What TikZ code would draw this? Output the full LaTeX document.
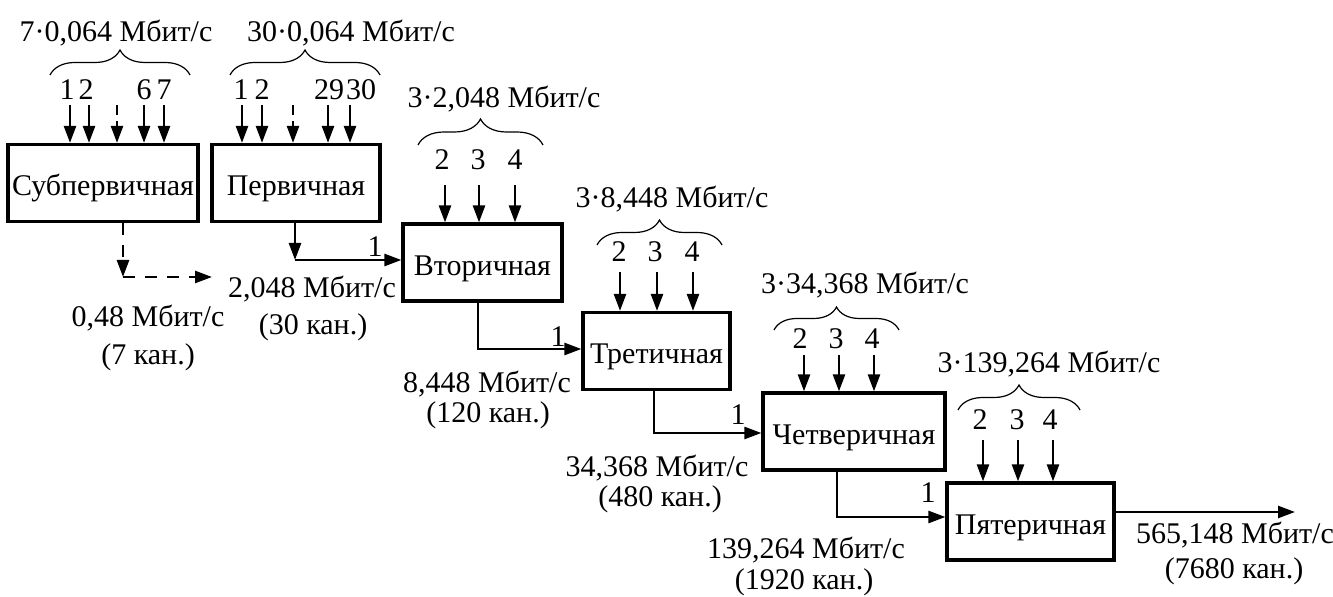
\documentclass[tikz,border=0pt]{standalone}
\usepackage{fontspec}
\setmainfont{Liberation Serif}
\usetikzlibrary{arrows.meta,decorations.pathreplacing}
\begin{document}
\begin{tikzpicture}[x=0.5pt,y=-0.5pt,
  every node/.style={font=\fontsize{15}{17}\selectfont, inner sep=0pt},
  lbl/.style={anchor=base},
  box/.style={draw, line width=1.6pt, text height=13pt, text depth=0pt},
  arr/.style={line width=1.25pt, -{Triangle[length=8.5pt,width=6pt]}},
  dsh/.style={dash pattern=on 5pt off 3pt},
  ldsh/.style={dash pattern=on 6pt off 5pt},
  brc/.style={line width=0.6pt, decorate, decoration={brace, amplitude=#1}}
]
\useasboundingbox (0,0) rectangle (1333,597);

% boxes
\node[box, minimum width=95pt, minimum height=38.5pt] (sub) at (103,183) {Субпервичная};
\node[box, minimum width=84pt, minimum height=38.5pt] (perv) at (296,183) {Первичная};
\node[box, minimum width=79.5pt, minimum height=38.5pt] (vtor) at (482.5,262.5) {Вторичная};
\node[box, minimum width=73.5pt, minimum height=38.5pt] (tret) at (656.5,351) {Третичная};
\node[box, minimum width=91pt, minimum height=38.5pt] (chet) at (854,431.5) {Четверичная};
\node[box, minimum width=83.5pt, minimum height=38.5pt] (pyat) at (1030.5,521.5) {Пятеричная};

% top labels
\node[lbl] (t1) at (116,42) {7·0,064 Мбит/с};
\node[lbl] (t2) at (351,42) {30·0,064 Мбит/с};
\node[lbl] (t3) at (504,108) {3·2,048 Мбит/с};
\node[lbl] (t4) at (672,208) {3·8,448 Мбит/с};
\node[lbl] (t5) at (865,294) {3·34,368 Мбит/с};
\node[lbl] (t6) at (1049,373) {3·139,264 Мбит/с};

% braces
\draw[brc=12.5pt] (50,75) -- (190,75);
\draw[brc=12.5pt] (230,75) -- (380,75);
\draw[brc=13pt] (418,145) -- (543,145);
\draw[brc=12.5pt] (597,245) -- (722,245);
\draw[brc=11.5pt] (774,330) -- (899,330);
\draw[brc=12.5pt] (958,410) -- (1080,410);

% channel numbers
\node[lbl] (s1) at (67,100) {1};
\node[lbl] (s2) at (86,100) {2};
\node[lbl] (s6) at (144,100) {6};
\node[lbl] (s7) at (164,100) {7};
\node[lbl] (p1) at (241,100) {1};
\node[lbl] (p2) at (262,100) {2};
\node[lbl] (p29) at (329,100) {29};
\node[lbl] (p30) at (361,100) {30};
\node[lbl] (v2) at (442,170) {2};
\node[lbl] (v3) at (478,170) {3};
\node[lbl] (v4) at (515,170) {4};
\node[lbl] (r2) at (619,262) {2};
\node[lbl] (r3) at (655,262) {3};
\node[lbl] (r4) at (692,262) {4};
\node[lbl] (c2) at (800,349) {2};
\node[lbl] (c3) at (836,349) {3};
\node[lbl] (c4) at (872,349) {4};
\node[lbl] (q2) at (980,430) {2};
\node[lbl] (q3) at (1017,430) {3};
\node[lbl] (q4) at (1050,430) {4};

% input arrows
\foreach \x in {70,89,144,164} \draw[arr] (\x,105) -- (sub.north -| \x,0);
\draw[arr,dsh] (117,105) -- (sub.north -| 117,0);
\foreach \x in {242,262,328,350} \draw[arr] (\x,105) -- (perv.north -| \x,0);
\draw[arr,dsh] (293,105) -- (perv.north -| 293,0);
\foreach \x in {445,479,515} \draw[arr] (\x,185) -- (vtor.north -| \x,0);
\foreach \x in {620,657,693} \draw[arr] (\x,272) -- (tret.north -| \x,0);
\foreach \x in {804,839,874} \draw[arr] (\x,355) -- (chet.north -| \x,0);
\foreach \x in {983,1018,1053} \draw[arr] (\x,440) -- (pyat.north -| \x,0);

% outputs
\coordinate (subc) at (123,277);
\coordinate (subend) at (212,277);
\draw[arr,ldsh] (sub.south -| 123,0) -- (subc);
\draw[arr,ldsh] (subc) -- (subend);
\coordinate (pervc) at (295,260);
\draw[arr] (perv.south -| 295,0) -- (pervc);
\draw[arr] (pervc) -- (pervc -| vtor.west);
\draw[arr] (vtor.south -| 478,0) |- (0,349 -| tret.west);
\draw[arr] (tret.south -| 654,0) |- (0,433 -| chet.west);
\draw[arr] (chet.south -| 837,0) |- (0,517 -| pyat.west);
\coordinate (outend) at (1295,512);
\draw[arr] (pyat.east |- outend) -- (outend);

% "1" labels
\node[lbl] (i1) at (375,257) {1};
\node[lbl] (i2) at (558,347) {1};
\node[lbl] (i3) at (738,425) {1};
\node[lbl] (i4) at (928,503) {1};

% rate labels
\node[lbl] (o1a) at (148,327) {0,48 Мбит/с};
\node[lbl] (o1b) at (148,365) {(7 кан.)};
\node[lbl] (o2a) at (312,298) {2,048 Мбит/с};
\node[lbl] (o2b) at (313,335) {(30 кан.)};
\node[lbl] (o3a) at (487,393) {8,448 Мбит/с};
\node[lbl] (o3b) at (488,423) {(120 кан.)};
\node[lbl] (o4a) at (657,477) {34,368 Мбит/с};
\node[lbl] (o4b) at (660,507) {(480 кан.)};
\node[lbl] (o5a) at (806,559) {139,264 Мбит/с};
\node[lbl] (o5b) at (804,590) {(1920 кан.)};
\node[lbl] (o6a) at (1235,544) {565,148 Мбит/с};
\node[lbl] (o6b) at (1234,579) {(7680 кан.)};
\end{tikzpicture}
\end{document}
